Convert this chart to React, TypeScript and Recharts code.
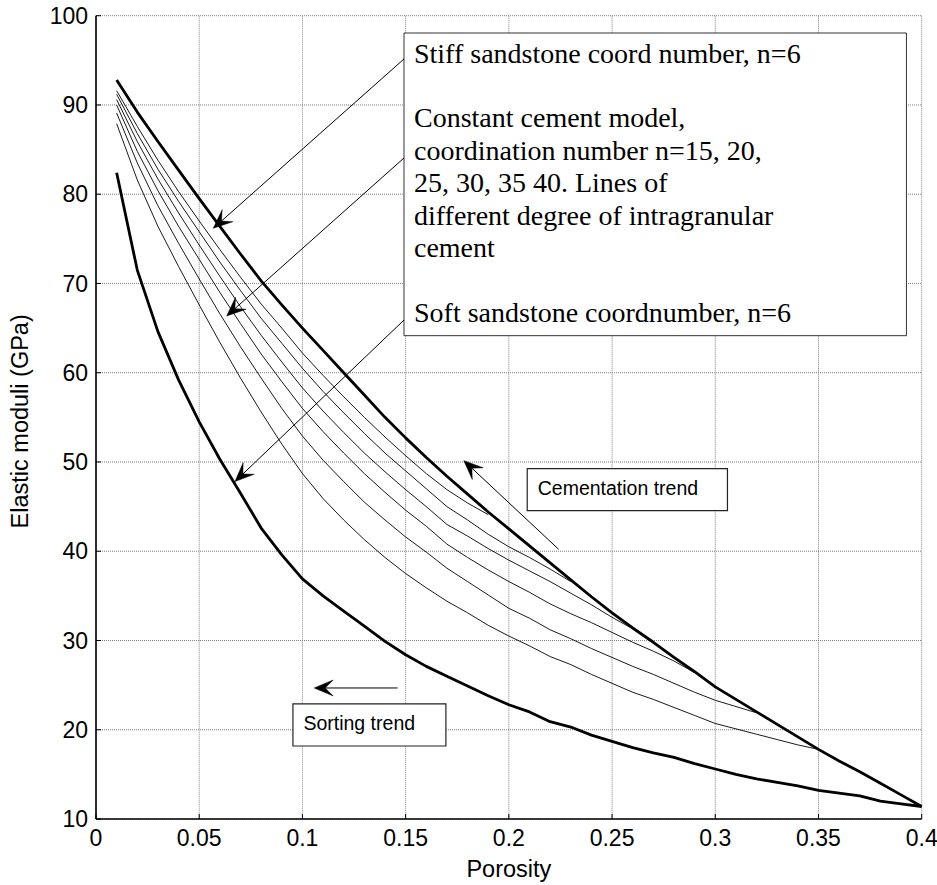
import React from 'react';
import {
  LineChart,
  Line,
  XAxis,
  YAxis,
  CartesianGrid,
  ReferenceLine,
  ReferenceArea,
} from 'recharts';

// ---------- data ----------
const porosity = [
  0.01, 0.02, 0.03, 0.04, 0.05, 0.06, 0.07, 0.08, 0.09, 0.1,
  0.11, 0.12, 0.13, 0.14, 0.15, 0.16, 0.17, 0.18, 0.19, 0.2,
  0.21, 0.22, 0.23, 0.24, 0.25, 0.26, 0.27, 0.28, 0.29, 0.3,
  0.31, 0.32, 0.33, 0.34, 0.35, 0.36, 0.37, 0.38, 0.39, 0.4,
];

const stiffSandstone = [
  92.8, 89.2, 85.9, 82.7, 79.5, 76.4, 73.3, 70.3, 67.6, 65.0,
  62.5, 60.0, 57.5, 55.0, 52.7, 50.5, 48.4, 46.4, 44.4, 42.5,
  40.6, 38.7, 36.8, 34.9, 33.1, 31.4, 29.8, 28.1, 26.5, 24.8,
  23.4, 22.0, 20.6, 19.2, 17.8, 16.5, 15.3, 14.0, 12.7, 11.4,
];

const softSandstone = [
  82.4, 71.5, 64.6, 59.2, 54.5, 50.3, 46.5, 42.6, 39.6, 36.9,
  35.0, 33.3, 31.6, 29.9, 28.4, 27.1, 26.0, 24.9, 23.8, 22.8,
  22.0, 20.9, 20.3, 19.4, 18.7, 18.0, 17.4, 16.9, 16.2, 15.6,
  15.0, 14.5, 14.1, 13.7, 13.2, 12.9, 12.6, 12.0, 11.7, 11.4,
];

const cementLine1 = [
  91.6, 87.6, 83.8, 80.3, 77.0, 73.8, 70.7, 67.7, 65.0, 62.2,
  59.7, 57.3, 55.0, 52.8, 50.7, 48.7, 46.9, 45.4, 44.1,
];
const cementLine2 = [
  91.2, 86.8, 82.8, 79.2, 75.8, 72.4, 69.2, 66.1, 63.3, 60.5,
  57.9, 55.5, 53.2, 51.0, 49.0, 47.0, 45.0, 43.5, 41.9, 40.5,
  39.3, 38.0, 36.6,
];
const cementLine3 = [
  90.6, 85.9, 81.7, 77.9, 74.3, 70.8, 67.4, 64.2, 61.2, 58.3,
  55.7, 53.3, 51.0, 48.9, 46.9, 45.0, 43.0, 41.7, 40.3, 39.0,
  37.8, 36.6, 35.3, 34.0, 32.6, 31.3,
];
const cementLine4 = [
  90.0, 84.8, 80.4, 76.4, 72.7, 69.0, 65.5, 62.1, 59.0, 56.0,
  53.4, 51.0, 48.7, 46.6, 44.6, 42.8, 40.8, 39.3, 37.9, 36.6,
  35.4, 34.1, 33.0, 32.0, 30.9, 29.8, 28.8, 27.7, 26.4,
];
const cementLine5 = [
  89.1, 83.5, 78.7, 74.5, 70.5, 66.6, 62.9, 59.4, 56.0, 52.9,
  50.2, 47.8, 45.5, 43.5, 41.6, 39.9, 38.1, 36.6, 35.1, 33.6,
  32.5, 31.2, 30.2, 29.1, 28.1, 27.1, 26.2, 25.2, 24.2, 23.3,
  22.6, 21.9,
];
const cementLine6 = [
  87.9, 81.6, 76.4, 71.9, 67.6, 63.4, 59.4, 55.6, 52.0, 48.7,
  45.9, 43.5, 41.3, 39.3, 37.5, 35.9, 34.4, 33.1, 31.7, 30.5,
  29.4, 28.2, 27.3, 26.2, 25.2, 24.2, 23.4, 22.5, 21.6, 20.7,
  20.1, 19.5, 18.9, 18.3, 17.8,
];

const xTicks = [0, 0.05, 0.1, 0.15, 0.2, 0.25, 0.3, 0.35, 0.4];
const yTicks = [10, 20, 30, 40, 50, 60, 70, 80, 90, 100];

const legendLines = [
  'Stiff sandstone coord number, n=6',
  '',
  'Constant cement model,',
  'coordination number n=15, 20,',
  '25, 30, 35 40. Lines of',
  'different degree of intragranular',
  'cement',
  '',
  'Soft sandstone coordnumber, n=6',
];

// annotation positions (data coordinates)
const legendBox = { x1: 0.1492, x2: 0.3926, y1: 64.15, y2: 98.06 };
const cementationBox = { x1: 0.2089, x2: 0.3059, y1: 44.54, y2: 49.25, text: 'Cementation trend' };
const sortingBox = { x1: 0.0954, x2: 0.1695, y1: 18.18, y2: 22.89, text: 'Sorting trend' };
const arrows = [
  { fx: 0.1492, fy: 95.15, tx: 0.0568, ty: 76.18 },
  { fx: 0.1492, fy: 84.06, tx: 0.0633, ty: 66.36 },
  { fx: 0.1492, fy: 65.9, tx: 0.0673, ty: 47.8 },
  { fx: 0.2241, fy: 40.22, tx: 0.1782, ty: 50.15 },
  { fx: 0.1461, fy: 24.68, tx: 0.1057, ty: 24.68 },
];

const rows = porosity.map((p, i) => ({
  phi: p,
  stiff: stiffSandstone[i],
  soft: softSandstone[i],
  c1: cementLine1[i] ?? null,
  c2: cementLine2[i] ?? null,
  c3: cementLine3[i] ?? null,
  c4: cementLine4[i] ?? null,
  c5: cementLine5[i] ?? null,
  c6: cementLine6[i] ?? null,
}));

const SANS = "'Liberation Sans', Arial, Helvetica, sans-serif";
const SERIF = "'Liberation Serif', 'Times New Roman', serif";

const arrowShape = (props: any) => {
  const { x1, y1, x2, y2 } = props;
  if ([x1, y1, x2, y2].some((v) => typeof v !== 'number' || isNaN(v))) return <g />;
  const dx = x2 - x1;
  const dy = y2 - y1;
  const len = Math.hypot(dx, dy) || 1;
  const ux = dx / len;
  const uy = dy / len;
  const px = -uy;
  const py = ux;
  const L = 19;
  const W = 8;
  const N = 11;
  const bx = x2 - ux * L;
  const by = y2 - uy * L;
  const nx = x2 - ux * N;
  const ny = y2 - uy * N;
  const pts = [
    [x2, y2],
    [bx + px * W, by + py * W],
    [nx, ny],
    [bx - px * W, by - py * W],
  ]
    .map((q) => q.join(','))
    .join(' ');
  return (
    <g>
      <line x1={x1} y1={y1} x2={nx} y2={ny} stroke="#000" strokeWidth={1} />
      <polygon points={pts} fill="#000" stroke="#000" strokeWidth={0.5} />
    </g>
  );
};

const legendContent = (props: any) => {
  const vb = props.viewBox || {};
  return (
    <g>
      {legendLines.map((t, i) =>
        t ? (
          <text
            key={i}
            x={vb.x + 10}
            y={vb.y + 29.5 + i * 32.4}
            fontSize={28}
            fontFamily={SERIF}
            fill="#000"
          >
            {t}
          </text>
        ) : null
      )}
    </g>
  );
};

const boxText = (text: string) => (props: any) => {
  const vb = props.viewBox || {};
  return (
    <text
      x={vb.x + 10.5}
      y={vb.y + vb.height / 2 + 5.5}
      fontSize={19.5}
      fontFamily={SANS}
      fill="#000"
    >
      {text}
    </text>
  );
};

const xLabel = (props: any) => {
  const vb = props.viewBox || { x: 96, y: 819, width: 826, height: 66 };
  return (
    <text x={vb.x + vb.width / 2} y={vb.y + 58} textAnchor="middle" fontSize={23.5} fontFamily={SANS} fill="#000">
      Porosity
    </text>
  );
};

const yLabel = (props: any) => {
  const vb = props.viewBox || { x: 0, y: 15.7, width: 96, height: 803 };
  const cx = vb.x + 28;
  const cy = vb.y + vb.height / 2 + 4;
  return (
    <text
      x={cx}
      y={cy}
      transform={`rotate(-90, ${cx}, ${cy})`}
      textAnchor="middle"
      fontSize={23.5}
      fontFamily={SANS}
      fill="#000"
    >
      Elastic moduli (GPa)
    </text>
  );
};

const tickStyle = { fontSize: 23, fill: '#000', fontFamily: SANS };
const axisLineStyle = { stroke: '#000', strokeWidth: 1.6 };
const tickLineStyle = { stroke: '#000', strokeWidth: 1 };

export default function App() {
  return (
    <div style={{ position: 'absolute', left: 0, top: 0, width: 937, height: 885, background: '#fff' }}>
      <LineChart
        width={937}
        height={885}
        data={rows}
        margin={{ top: 15.7, right: 15.3, bottom: 0, left: 0 }}
      >
        <CartesianGrid stroke="#808080" strokeDasharray="1 1" strokeWidth={1} />
        <XAxis
          dataKey="phi"
          type="number"
          domain={[0, 0.4]}
          ticks={xTicks}
          interval={0}
          height={66}
          tick={tickStyle}
          tickSize={-5}
          tickMargin={16}
          axisLine={axisLineStyle}
          tickLine={tickLineStyle}
          tickFormatter={(v: number) => String(v)}
          label={xLabel}
        />
        <XAxis
          xAxisId="top"
          orientation="top"
          type="number"
          domain={[0, 0.4]}
          ticks={xTicks}
          interval={0}
          height={0}
          tick={false}
          tickSize={-5}
          axisLine={axisLineStyle}
          tickLine={tickLineStyle}
        />
        <YAxis
          type="number"
          domain={[10, 100]}
          ticks={yTicks}
          interval={0}
          width={96}
          tick={tickStyle}
          tickSize={-5}
          tickMargin={13}
          axisLine={axisLineStyle}
          tickLine={tickLineStyle}
          label={yLabel}
        />
        <YAxis
          yAxisId="right"
          orientation="right"
          type="number"
          domain={[10, 100]}
          ticks={yTicks}
          interval={0}
          width={0}
          tick={false}
          tickSize={-5}
          axisLine={axisLineStyle}
          tickLine={tickLineStyle}
        />

        <Line dataKey="c1" type="linear" stroke="#000" strokeWidth={0.9} dot={false} activeDot={false} isAnimationActive={false} />
        <Line dataKey="c2" type="linear" stroke="#000" strokeWidth={0.9} dot={false} activeDot={false} isAnimationActive={false} />
        <Line dataKey="c3" type="linear" stroke="#000" strokeWidth={0.9} dot={false} activeDot={false} isAnimationActive={false} />
        <Line dataKey="c4" type="linear" stroke="#000" strokeWidth={0.9} dot={false} activeDot={false} isAnimationActive={false} />
        <Line dataKey="c5" type="linear" stroke="#000" strokeWidth={0.9} dot={false} activeDot={false} isAnimationActive={false} />
        <Line dataKey="c6" type="linear" stroke="#000" strokeWidth={0.9} dot={false} activeDot={false} isAnimationActive={false} />
        <Line dataKey="stiff" type="linear" stroke="#000" strokeWidth={2.8} strokeLinejoin="round" dot={false} activeDot={false} isAnimationActive={false} />
        <Line dataKey="soft" type="linear" stroke="#000" strokeWidth={2.8} strokeLinejoin="round" dot={false} activeDot={false} isAnimationActive={false} />

        <ReferenceArea
          x1={legendBox.x1}
          x2={legendBox.x2}
          y1={legendBox.y1}
          y2={legendBox.y2}
          fill="#fff"
          fillOpacity={1}
          stroke="#333"
          strokeWidth={1}
          label={legendContent}
        />
        <ReferenceArea
          x1={cementationBox.x1}
          x2={cementationBox.x2}
          y1={cementationBox.y1}
          y2={cementationBox.y2}
          fill="#fff"
          fillOpacity={1}
          stroke="#222"
          strokeWidth={1.2}
          label={boxText(cementationBox.text)}
        />
        <ReferenceArea
          x1={sortingBox.x1}
          x2={sortingBox.x2}
          y1={sortingBox.y1}
          y2={sortingBox.y2}
          fill="#fff"
          fillOpacity={1}
          stroke="#222"
          strokeWidth={1.2}
          label={boxText(sortingBox.text)}
        />

        {arrows.map((a, i) => (
          <ReferenceLine
            key={i}
            segment={[
              { x: a.fx, y: a.fy },
              { x: a.tx, y: a.ty },
            ]}
            stroke="#000"
            strokeWidth={1}
            ifOverflow="visible"
            shape={arrowShape}
          />
        ))}
      </LineChart>
    </div>
  );
}
